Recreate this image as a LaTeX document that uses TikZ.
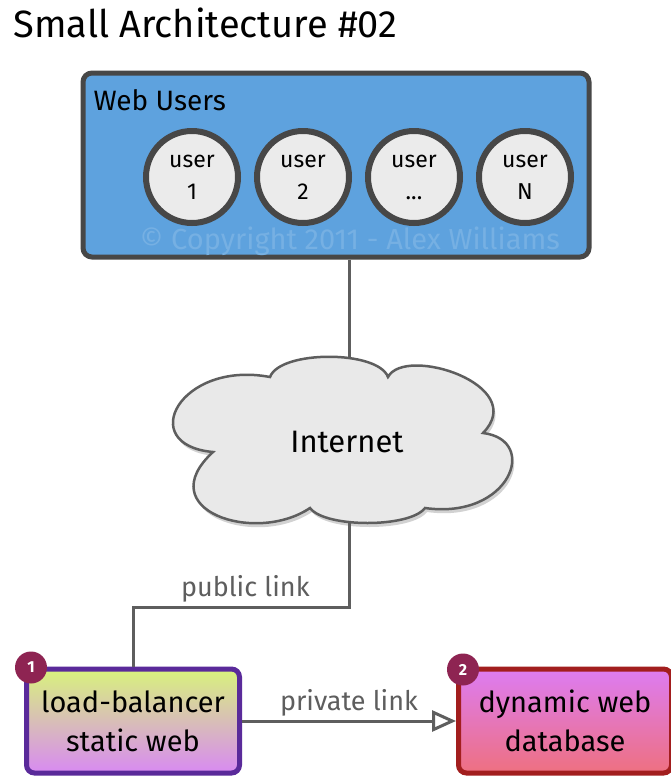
\documentclass[tikz,border=0pt]{standalone}
\usepackage{fontspec}
\setmainfont{Fira Sans}
\usetikzlibrary{shadows,arrows.meta}
\definecolor{webblue}{HTML}{5EA2DE}
\definecolor{framegray}{HTML}{474747}
\definecolor{dotfill}{HTML}{EBEBEB}
\definecolor{cloudfill}{HTML}{E9E9E9}
\definecolor{linkgray}{HTML}{5E5E5E}
\definecolor{badgered}{HTML}{8E2452}
\definecolor{lbtop}{HTML}{D8F27C}
\definecolor{lbbottom}{HTML}{D88AF2}
\definecolor{lbframe}{HTML}{5A2A9A}
\definecolor{dbtop}{HTML}{DD7CF2}
\definecolor{dbbottom}{HTML}{EE7080}
\definecolor{dbframe}{HTML}{A21E1E}
\tikzset{
  webbox/.style={draw=framegray, line width=5pt, rounded corners=9pt, fill=webblue,
    minimum width=506pt, minimum height=184pt},
  userdot/.style={circle, draw=framegray, line width=6pt, fill=dotfill,
    minimum size=92pt, inner sep=0pt, align=center,
    font=\fontsize{23}{35}\selectfont},
  cloudline/.style={draw=linkgray, line width=2.5pt, fill=cloudfill,
    drop shadow={shadow xshift=2pt, shadow yshift=-4pt, opacity=0.35}},
  serverbox/.style={rounded corners=8pt, line width=5pt, minimum width=213pt,
    minimum height=104pt, align=center, font=\fontsize{29}{39}\selectfont},
  badge/.style={circle, fill=badgered, text=white, minimum size=32pt,
    inner sep=0pt, font=\bfseries\fontsize{16}{16}\selectfont},
  link/.style={draw=linkgray, line width=3pt},
  linklabel/.style={text=linkgray, font=\fontsize{27}{30}\selectfont}
}
\begin{document}
\begin{tikzpicture}[x=1pt, y=-1pt]
    \useasboundingbox[fill=white] (0,0) rectangle (670,777);
    \node[anchor=base west, font=\fontsize{38}{42}\selectfont] (title) at (10,37) {Small Architecture \#02};
    % web users
    \node[webbox] (users) at (336,165) {};
    \node[anchor=base west, font=\fontsize{28}{32}\selectfont] (userslab) at (90,110) {Web Users};
    \node[text=webblue!85!white, font=\fontsize{29}{32}\selectfont] (copy) at (350,241) {© Copyright 2011 - Alex Williams};
    \node[userdot] (u1) at (192,177) {\raisebox{-3pt}{user}\\1};
    \node[userdot] (u2) at (303,177) {\raisebox{-3pt}{user}\\2};
    \node[userdot] (u3) at (414,177) {\raisebox{-3pt}{user}\\...};
    \node[userdot] (uN) at (525,177) {\raisebox{-3pt}{user}\\N};
    % internet cloud
    \path[cloudline] (270,377) .. controls (280,350) and (378,350) .. (388,377)
        .. controls (405,345) and (530,385) .. (483,433)
        .. controls (540,440) and (510,520) .. (425,508)
        .. controls (410,528) and (325,528) .. (310,508)
        .. controls (255,545) and (150,510) .. (213,452)
        .. controls (135,445) and (180,360) .. (270,377) -- cycle;
    \node[font=\fontsize{31}{34}\selectfont] (net) at (347,442) {Internet};
    \coordinate (nettop) at (349,359);
    \coordinate (netbot) at (349,521);
    % servers
    \node[serverbox, draw=lbframe, top color=lbtop, bottom color=lbbottom] (lb) at (133,721) {load-balancer\\static web};
    \node[serverbox, draw=dbframe, top color=dbtop, bottom color=dbbottom] (db) at (565,721) {dynamic web\\database};
    \node[badge] (lbnum) at ([xshift=7pt, yshift=-1pt]lb.north west) {1};
    \node[badge] (dbnum) at ([xshift=7pt, yshift=-3pt]db.north west) {2};
    % links
    \coordinate (pubturn) at (133,607);
    \draw[link] (nettop |- users.south) -- (nettop);
    \draw[link] (netbot) |- node[pos=0.74, above, linklabel] (publab) {public link} (pubturn) -- (lb.north);
    \draw[link, -{Triangle[open, length=24pt, width=21pt, line width=3pt]}] (lb.east) -- node[above, linklabel] (privlab) {private link} (db.west);
\end{tikzpicture}
\end{document}
